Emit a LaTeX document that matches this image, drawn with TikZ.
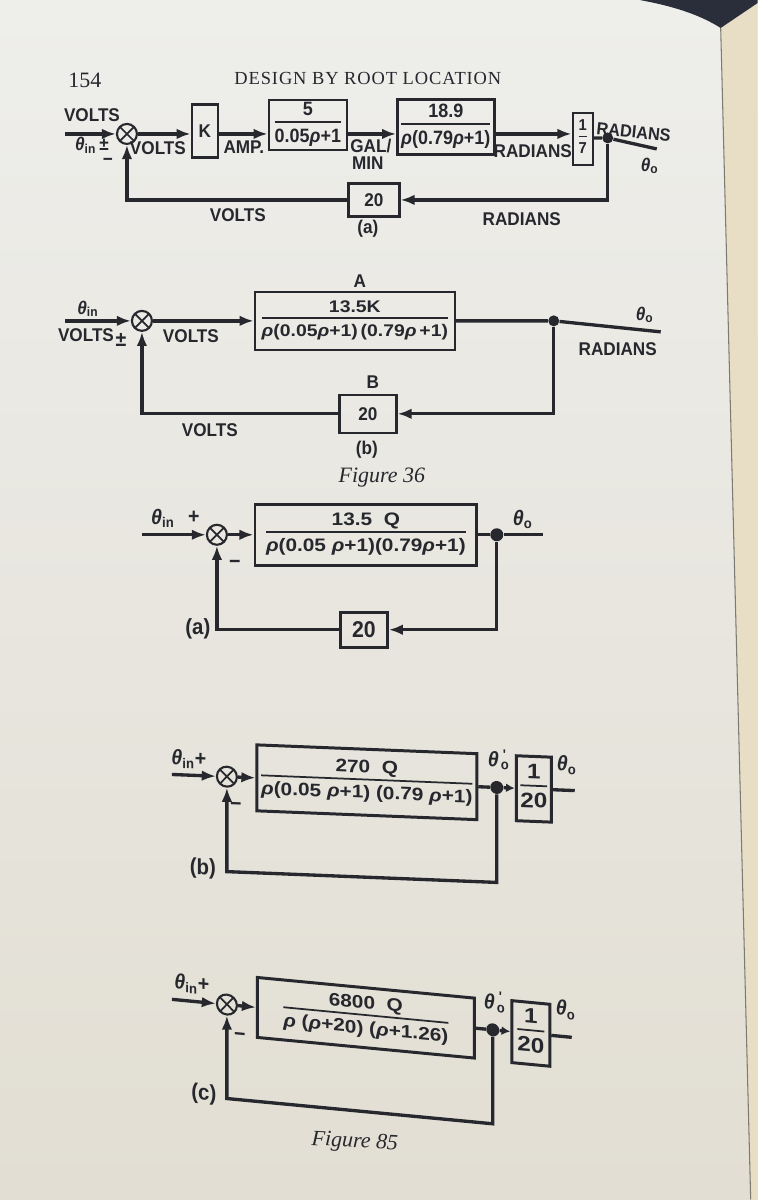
\documentclass[tikz,border=0pt]{standalone}
\usepackage{fontspec}
\setmainfont{Liberation Serif}
\newfontfamily\lettering[FakeStretch=0.93]{Liberation Sans}
\newfontfamily\wideletter[FakeStretch=1.15]{Liberation Sans}
\usetikzlibrary{arrows.meta}

\definecolor{ink}{RGB}{38,40,46}
\definecolor{paper}{RGB}{238,238,235}
\definecolor{paperlow}{RGB}{226,222,211}
\definecolor{nextpage}{RGB}{232,222,198}
\definecolor{cover}{RGB}{42,46,58}

\setlength{\arrayrulewidth}{1pt}
\newcommand{\frc}[2]{\begin{tabular}{@{}c@{}}#1\\[0pt]\hline\rule{0pt}{1em}#2\end{tabular}}
\newcommand{\rhoit}{\textit{ρ}}
\newcommand{\thetain}{\textit{θ}\textsubscript{in}}
\newcommand{\thetao}{\textit{θ}\textsubscript{o}}
\newcommand{\thetaop}{\textit{θ}\kern.1em\rlap{\textsuperscript{\kern.15em'}}\textsubscript{o}}

\begin{document}
\begin{tikzpicture}[x=0.02cm, y=-0.02cm, >={Latex[length=8pt,width=6pt]},
  wire/.style={draw=ink, line width=1.9pt},
  tinyarr/.style={-{Latex[length=5pt,width=5pt]}},
  blk/.style={draw=ink, line width=1.4pt, text=ink, inner sep=1pt, align=center},
  sumj/.style={circle, draw=ink, line width=1.2pt, minimum size=0.4cm, inner sep=0pt,
    path picture={\draw[ink, line width=1pt]
      (path picture bounding box.north west) -- (path picture bounding box.south east)
      (path picture bounding box.north east) -- (path picture bounding box.south west);}},
  tap/.style={circle, fill=ink, inner sep=0pt, minimum size=0.22cm},
  lbl/.style={text=ink, inner sep=0pt},
  lettr/.style={font=\lettering\bfseries\fontsize{#1}{#1}\selectfont},
  widel/.style={font=\wideletter\bfseries\fontsize{#1}{#1}\selectfont},
  capt/.style={font=\normalfont\itshape\fontsize{12.5}{14}\selectfont}]

% page
\shade[top color=paper, bottom color=paperlow] (0,0) rectangle (758,1200);
\fill[nextpage] (721,28) -- (758,3) -- (758,1200) -- (751,1200) -- cycle;
\draw[ink!55!nextpage, line width=0.6pt] (721,28) -- (751,1200);
\fill[cover] (640,0) .. controls (678,7) and (702,16) .. (721,28) -- (758,3) -- (758,0) -- cycle;
\useasboundingbox (0,0) rectangle (758,1200);

% running head
\node[lbl, font=\fontsize{12.5}{14}\selectfont] (pgno) at (85,80) {154};
\node[lbl, font=\fontsize{10.5}{12}\selectfont\addfontfeature{LetterSpace=5}] (runhead) at (368,79) {DESIGN BY ROOT LOCATION};

% Figure 36 (a)
\begin{scope}[lettr=10.5]
\coordinate (ina) at (65,134);
\node[sumj] (sa) at (127,134) {};
\node[lbl] (vin) at (92,115) {VOLTS};
\node[lbl] (tia) at (92,145) {\thetain\,±};
\node[lbl] (mia) at (108,162) {−};
\node[lbl] (vsa) at (158,148) {VOLTS};
\node[blk, minimum width=0.52cm, minimum height=1.06cm] (ka) at (205,131) {K};
\node[lbl] (ampa) at (244,147) {AMP.};
\node[blk, minimum width=1.56cm, minimum height=1cm, lettr=11] (b1a) at (308,125) {\frc{5}{0.05\rhoit+1}};
\node[lbl] (gala) at (371,146) {GAL/};
\node[lbl] (mina) at (368,163) {MIN};
\node[blk, minimum width=1.94cm, minimum height=1.1cm, lettr=11] (b2a) at (446,127) {\frc{18.9}{\rhoit(0.79\rhoit+1)}};
\node[lbl] (rda) at (533,151) {RADIANS};
\node[blk, minimum width=0.4cm, minimum height=1.04cm, lettr=9] (b3a) at (583,139) {\frc{1}{7}};
\node[tap] (da) at (608,138) {};
\coordinate (outa) at (657,149);
\node[lbl, rotate=-6, lettr=10] (rdo) at (634,132) {RADIANS};
\node[lbl] (toa) at (650,166) {\thetao};
\node[blk, minimum width=1.02cm, minimum height=0.66cm] (fa) at (374,200) {20};
\node[lbl] (vfa) at (238,215) {VOLTS};
\node[lbl] (rfa) at (522,219) {RADIANS};
\node[lbl] (laba) at (368,229) {(a)};

\draw[wire,->] (ina) -- (sa);
\draw[wire,->] (sa) -- (ka.west |- sa);
\draw[wire,->] (ka.east |- sa) -- (b1a.west |- sa);
\draw[wire,->] (b1a.east |- sa) -- (b2a.west |- sa);
\draw[wire,->] (b2a.east |- sa) -- (b3a.west |- sa);
\draw[wire] (b3a.east |- da) -- (da) -- (outa);
\draw[wire,->] (da) |- (fa);
\draw[wire,->] (fa) -| (sa);
\end{scope}

% Figure 36 (b)
\begin{scope}[lettr=10.5]
\coordinate (inb) at (65,321);
\node[sumj] (sb) at (142,321) {};
\node[lbl] (tib) at (88,309) {\thetain};
\node[lbl] (vlb) at (86,335) {VOLTS};
\node[lbl, lettr=12] (pmb) at (121,340) {±};
\node[lbl] (vob) at (191,336) {VOLTS};
\node[lbl] (labA) at (360,281) {A};
\node[blk, minimum width=4cm, minimum height=1.16cm, widel=9.6] (gb) at (355,321) {\frc{13.5K}{\rhoit(0.05\rhoit+1)\,(0.79\rhoit\,+1)}};
\node[tap] (db) at (554,321) {};
\coordinate (outb) at (661,332);
\node[lbl] (tob) at (645,315) {\thetao};
\node[lbl] (rdb) at (618,349) {RADIANS};
\node[blk, minimum width=1.14cm, minimum height=0.76cm] (hb) at (368,414) {20};
\node[lbl] (labB) at (373,382) {B};
\node[lbl] (vfb) at (210,430) {VOLTS};
\node[lbl] (labb) at (367,450) {(b)};
\node[lbl, capt] (fig36) at (382,478) {Figure 36};

\draw[wire,->] (inb) -- (sb);
\draw[wire,->] (sb) -- (gb.west |- sb);
\draw[wire] (gb.east |- sb) -- (db) -- (outb);
\draw[wire,->] (db) |- (hb);
\draw[wire,->] (hb) -| (sb);
\end{scope}

% Figure 85 (a)
\begin{scope}[lettr=12]
\coordinate (inc) at (142,535);
\node[sumj] (sc) at (217,535) {};
\node[lbl] (tic) at (163,519) {\thetain};
\node[lbl] (plc) at (194,518) {+};
\node[blk, line width=1.6pt, minimum width=4.44cm, minimum height=1.22cm, widel=10.3] (gc) at (366,535) {\frc{13.5\ \ Q}{\rhoit(0.05 \rhoit+1)(0.79\rhoit+1)}};
\node[tap, minimum size=0.26cm] (dc) at (497,535) {};
\coordinate (outc) at (543,535);
\node[lbl] (toc) at (523,520) {\thetao};
\node[blk, line width=1.6pt, minimum width=0.94cm, minimum height=0.7cm, lettr=13] (hc) at (364,630) {20};
\node[lbl] (mic) at (235,565) {−};
\node[lbl, lettr=12.5] (labc) at (198,629) {(a)};

\draw[wire,->] (inc) -- (sc);
\draw[wire,->] (sc) -- (gc);
\draw[wire] (gc) -- (dc) -- (outc);
\draw[wire,->] (dc) |- (hc);
\draw[wire,->] (hc) -| (sc);
\end{scope}

% Figure 85 (b)
\begin{scope}[shift={(227,777)}, yslant=-0.04, transform shape, lettr=12]
\coordinate (ine) at (-55,0);
\node[sumj] (se) at (0,0) {};
\node[lbl] (tie) at (-38,-16) {\thetain+};
\node[blk, line width=1.7pt, minimum width=4.4cm, minimum height=1.32cm, widel=10.3] (ge) at (140,0) {\frc{270\ \ Q}{\rhoit(0.05 \rhoit+1) (0.79 \rhoit+1)}};
\node[tap, minimum size=0.26cm] (de) at (270,0) {};
\node[lbl] (tope) at (272,-28) {\thetaop};
\node[blk, line width=1.7pt, minimum width=0.7cm, minimum height=1.3cm, widel=12] (ke) at (307,0) {\frc{1}{20}};
\coordinate (oute) at (348,0);
\node[lbl] (toe) at (340,-25) {\thetao};
\coordinate (cre) at (270,95);
\coordinate (cle) at (0,95);
\node[lbl] (mie) at (9,30) {−};
\node[lbl, lettr=12.5] (labe) at (-24,93) {(b)};

\draw[wire,->] (ine) -- (se);
\draw[wire,->] (se) -- (ge);
\draw[wire] (ge) -- (de);
\draw[wire,tinyarr] (de) -- (ke);
\draw[wire] (ke) -- (oute);
\draw[wire,->] (de) -- (cre) -- (cle) -- (se);
\end{scope}

% Figure 85 (c)
\begin{scope}[shift={(227,1005)}, yslant=-0.095, transform shape, lettr=12]
\coordinate (inf) at (-55,0);
\node[sumj] (sf) at (0,0) {};
\node[lbl] (tif) at (-35,-17) {\thetain+};
\node[blk, line width=1.7pt, minimum width=4.34cm, minimum height=1.2cm, widel=10.3] (gf) at (139,0) {\frc{6800\ \ Q}{\rhoit\ (\rhoit+20)\ (\rhoit+1.26)}};
\node[tap, minimum size=0.26cm] (df) at (266,0) {};
\node[lbl] (topf) at (268,-28) {\thetaop};
\node[blk, line width=1.7pt, minimum width=0.76cm, minimum height=1.24cm, widel=12] (kf) at (304,0) {\frc{1}{20}};
\coordinate (outf) at (345,0);
\node[lbl] (tof) at (339,-27) {\thetao};
\coordinate (crf) at (266,94);
\coordinate (clf) at (0,94);
\node[lbl] (mif) at (13,31) {−};
\node[lbl, lettr=12.5] (labf) at (-23,92) {(c)};

\draw[wire,->] (inf) -- (sf);
\draw[wire,->] (sf) -- (gf);
\draw[wire] (gf) -- (df);
\draw[wire,tinyarr] (df) -- (kf);
\draw[wire] (kf) -- (outf);
\draw[wire,->] (df) -- (crf) -- (clf) -- (sf);
\end{scope}

\node[lbl, capt, rotate=-3] (fig85) at (355,1143) {Figure 85};
\end{tikzpicture}
\end{document}
